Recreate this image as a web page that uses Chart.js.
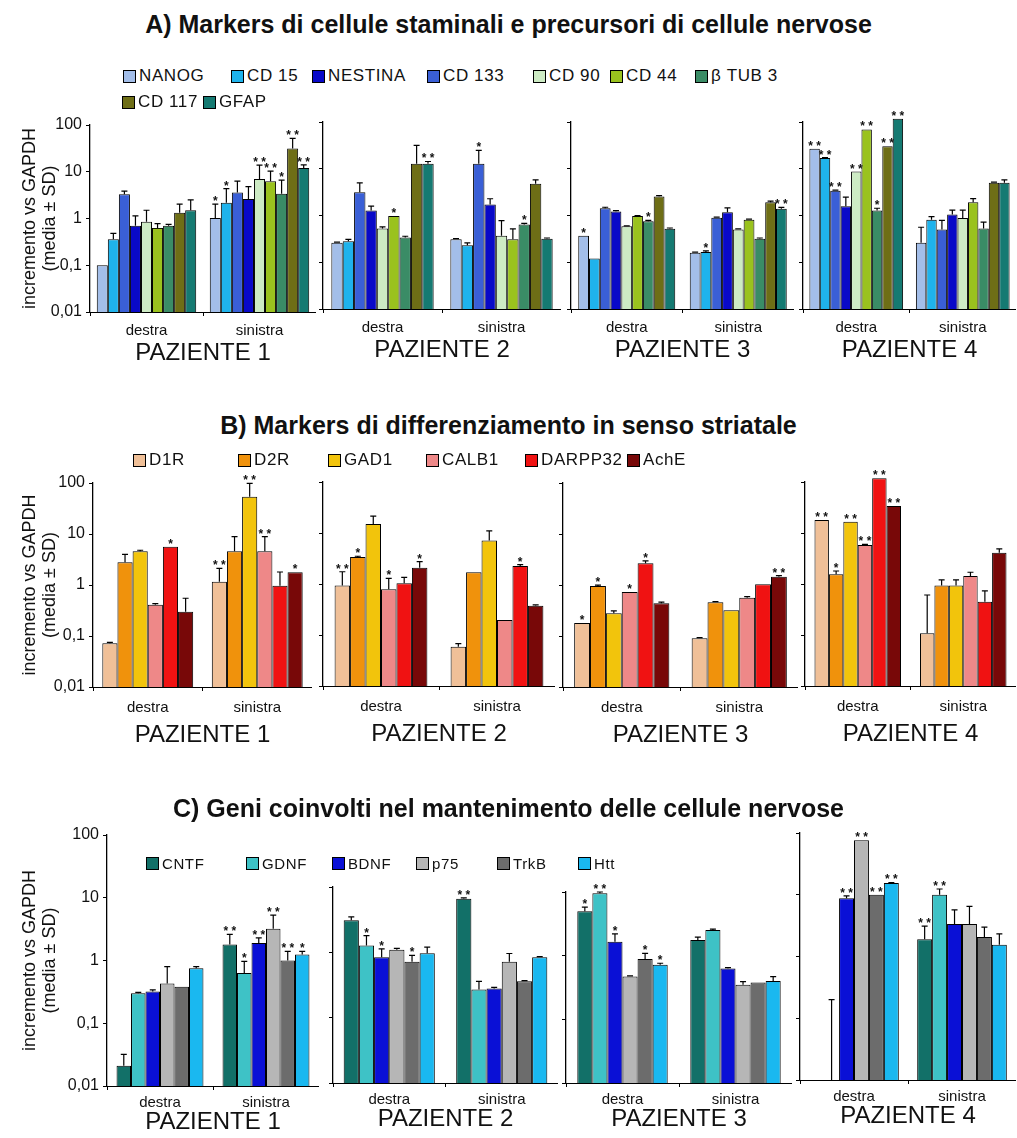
<!DOCTYPE html>
<html lang="it">
<head>
<meta charset="UTF-8">
<title>Markers - PAZIENTE 1-4</title>
<style>
  body { margin: 0; background: #fff; }
  #page { position: relative; width: 1017px; height: 1138px; overflow: hidden;
          font-family: "Liberation Sans", Arial, sans-serif; color: #111; }
  canvas { position: absolute; }
  .title { position: absolute; left: 0; width: 1017px; text-align: center;
           font-weight: bold; font-size: 25px; line-height: 30px; }
  .key { position: absolute; display: flex; align-items: center; white-space: nowrap;
         height: 20px; letter-spacing: 0.6px; }
  .key i { display: inline-block; width: 11px; height: 11px; border: 1px solid #000; margin-right: 3px; }
</style>
<script src="https://cdn.jsdelivr.net/npm/chart.js"></script>
</head>
<body>
<div id="page"></div>
<script>
// ---- data (log scale, mean and SD, significance) ----
const sides = ['destra', 'sinistra'];
const decades = [0.01, 0.1, 1, 10, 100];

// A) stem cell / neural precursor markers, in bar order
const markersA = ['NANOG', 'CD 15', 'CD 133', 'NESTINA', 'CD 90', 'CD 44', 'β TUB 3', 'CD 117', 'GFAP'];
const coloursA = ['#a3bee9', '#1fb3ec', '#3a5fd6', '#0909c8', '#cdebc4', '#9ac21e', '#3a8c66', '#6e6e16', '#157a72'];
const legendOrderA = ['NANOG', 'CD 15', 'NESTINA', 'CD 133', 'CD 90', 'CD 44', 'β TUB 3', 'CD 117', 'GFAP'];

// each row: [destra, sinistra]
const A1_mean = [[0.10, 1.03], [0.36, 2.16], [3.3, 3.6], [0.70, 2.6], [0.85, 7.0], [0.63, 6.3], [0.70, 3.4], [1.32, 31.6], [1.5, 12]];
const A1_sd   = [[0, 1.0], [0.12, 2.2], [0.55, 2.7], [0.44, 2.2], [0.65, 6.9], [0.15, 4.0], [0.05, 3.2], [0.7, 20], [1.0, 2]];
const A1_sig  = [['', '*'], ['', '*'], ['', ''], ['', ''], ['', '**'], ['', '**'], ['', '*'], ['', '**'], ['', '**']];

const A2_mean = [[0.26, 0.31], [0.28, 0.23], [3.16, 12.8], [1.28, 1.72], [0.53, 0.37], [0.97, 0.31], [0.34, 0.64], [12.8, 4.8], [12.8, 0.32]];
const A2_sd   = [[0.01, 0.01], [0.03, 0.03], [1.85, 11.8], [0.3, 0.56], [0.04, 0.41], [0, 0.21], [0.02, 0.04], [18.8, 1.0], [1.5, 0.01]];
const A2_sig  = [['', ''], ['', ''], ['', '*'], ['', ''], ['', ''], ['*', ''], ['', '*'], ['', ''], ['**', '']];

const A3_mean = [[0.37, 0.16], [0.12, 0.165], [1.43, 0.89], [1.22, 1.18], [0.59, 0.50], [0.97, 0.81], [0.75, 0.32], [2.55, 1.93], [0.52, 1.39]];
const A3_sd   = [[0, 0.005], [0, 0.01], [0.07, 0.03], [0.05, 0.27], [0.01, 0.02], [0.02, 0.03], [0.04, 0.01], [0.1, 0.1], [0.02, 0.1]];
const A3_sig  = [['*', ''], ['', '*'], ['', ''], ['', ''], ['', ''], ['', ''], ['*', ''], ['', ''], ['', '**']];

const A4_mean = [[26.8, 0.26], [16.9, 0.81], [3.4, 0.50], [1.58, 1.05], [8.7, 0.88], [69.5, 1.93], [1.28, 0.53], [30.4, 5.0], [118, 5.0]];
const A4_sd   = [[0, 0.3], [0.5, 0.14], [0.1, 0.29], [0.9, 0.25], [0, 0.42], [0, 0.37], [0.15, 0.19], [0, 0.2], [0, 0.8]];
const A4_sig  = [['**', ''], ['**', ''], ['**', ''], ['', ''], ['**', ''], ['**', ''], ['*', ''], ['**', ''], ['**', '']];

// B) striatal differentiation markers
const markersB = ['D1R', 'D2R', 'GAD1', 'CALB1', 'DARPP32', 'AchE'];
const coloursB = ['#f0c098', '#f0920c', '#f2c40c', '#ee8888', '#f01212', '#780808'];

const B1_mean = [[0.072, 1.16], [2.8, 4.6], [4.6, 54], [0.41, 4.6], [5.6, 0.97], [0.30, 1.77]];
const B1_sd   = [[0.003, 0.95], [1.2, 4.3], [0.2, 44], [0.02, 4.3], [0, 0.83], [0.25, 0]];
const B1_sig  = [['', '**'], ['', ''], ['', '**'], ['', '**'], ['*', ''], ['', '*']];

const B2_mean = [[0.93, 0.059], [3.4, 1.7], [15, 7.1], [0.79, 0.197], [1.03, 2.25], [2.09, 0.376]];
const B2_sd   = [[0.81, 0.009], [0.1, 0], [6.5, 3.9], [0.5, 0], [0.32, 0.15], [0.65, 0.014]];
const B2_sig  = [['**', ''], ['*', ''], ['', ''], ['*', ''], ['', '*'], ['*', '']];

const B3_mean = [[0.18, 0.09], [0.96, 0.46], [0.28, 0.32], [0.73, 0.56], [2.66, 1.03], [0.44, 1.45]];
const B3_sd   = [[0, 0.003], [0.03, 0.01], [0.03, 0], [0, 0.03], [0.32, 0], [0.02, 0.08]];
const B3_sig  = [['*', ''], ['*', ''], ['', ''], ['*', ''], ['*', ''], ['', '**']];

const B4_mean = [[18, 0.108], [1.55, 0.93], [16.6, 0.93], [5.8, 1.43], [118, 0.45], [34, 4.1]];
const B4_sd   = [[0, 0.5], [0.25, 0.27], [0, 0.27], [0.2, 0.27], [0, 0.28], [0, 0.8]];
const B4_sig  = [['**', ''], ['*', ''], ['**', ''], ['**', ''], ['**', ''], ['**', '']];

// C) neural maintenance genes
const markersC = ['CNTF', 'GDNF', 'BDNF', 'p75', 'TrkB', 'Htt'];
const coloursC = ['#127068', '#3ec2c6', '#0a10d6', '#b6b6b6', '#6c6c6c', '#1ab8f0'];

const C1_mean = [[0.021, 1.8], [0.30, 0.63], [0.32, 1.9], [0.43, 3.2], [0.38, 1.0], [0.75, 1.25]];
const C1_sd   = [[0.011, 0.8], [0.01, 0.34], [0.02, 0.4], [0.37, 2.1], [0, 0.4], [0.05, 0.15]];
const C1_sig  = [['', '**'], ['', '*'], ['', '**'], ['', '**'], ['', '**'], ['', '*']];

const C2_mean = [[3.1, 6.6], [1.27, 0.27], [0.84, 0.28], [1.1, 0.72], [0.72, 0.36], [0.97, 0.84]];
const C2_sd   = [[0.4, 0.2], [0.53, 0.09], [0.29, 0.01], [0.05, 0.24], [0.18, 0.01], [0.23, 0.02]];
const C2_sig  = [['', '**'], ['*', ''], ['*', ''], ['', ''], ['*', ''], ['', '']];

const C3_mean = [[5.0, 1.77], [9.6, 2.54], [1.66, 0.63], [0.47, 0.35], [0.89, 0.38], [0.72, 0.40]];
const C3_sd   = [[0.8, 0.18], [0.4, 0.08], [0.54, 0.02], [0.01, 0.04], [0.2, 0], [0.04, 0.07]];
const C3_sig  = [['*', ''], ['**', ''], ['*', ''], ['', ''], ['*', ''], ['*', '']];

const C4_mean = [[null, 1.9], [0.01, 10], [8.8, 3.35], [76, 3.35], [10, 2.06], [15.5, 1.55]];
const C4_sd   = [[0, 1.2], [0.19, 2.4], [0.8, 2.35], [0, 3.15], [0, 0.94], [0.3, 0.78]];
const C4_sig  = [['', '**'], ['', '**'], ['**', ''], ['**', ''], ['**', ''], ['**', '']];

// ---- layout ----
const titles = [
  ['A) Markers di cellule staminali e precursori di cellule nervose', 9],
  ['B) Markers di differenziamento in senso striatale', 410],
  ['C) Geni coinvolti nel mantenimento delle cellule nervose', 793]
];
// per row: x-axis box height, tick label padding, legend font size
const rowStyle = {
  A: { xh: 56, tickPad: 6, keyFont: 17 },
  B: { xh: 63, tickPad: 8, keyFont: 17 },
  C: { xh: 51, tickPad: 4, keyFont: 15 }
};
const keyPos = {
  A: [[123, 76], [231, 76], [312, 76], [427, 76], [533, 76], [610, 76], [695, 76], [122, 102], [203, 102]],
  B: [[133, 460], [238, 460], [328, 460], [426, 460], [525, 460], [627, 460]],
  C: [[146, 863], [246, 863], [332, 863], [416, 863], [497, 863], [578, 863]]
};
const panels = [
  { row: 'A', n: 1, axisX: 90,  right: 316,  top: 125, bottom: 312,  max: 100, cp: 0.88, mean: A1_mean, sd: A1_sd, sig: A1_sig },
  { row: 'A', n: 2, axisX: 323, right: 561,  top: 122, bottom: 309,  max: 100, cp: 0.86, mean: A2_mean, sd: A2_sd, sig: A2_sig },
  { row: 'A', n: 3, axisX: 571, right: 794,  top: 122, bottom: 309,  max: 100, cp: 0.87, mean: A3_mean, sd: A3_sd, sig: A3_sig },
  { row: 'A', n: 4, axisX: 803, right: 1016, top: 122, bottom: 309,  max: 100, cp: 0.88, mean: A4_mean, sd: A4_sd, sig: A4_sig },
  { row: 'B', n: 1, axisX: 93,  right: 312,  top: 483, bottom: 687,  max: 100, cp: 0.83, mean: B1_mean, sd: B1_sd, sig: B1_sig },
  { row: 'B', n: 2, axisX: 323, right: 555,  top: 482, bottom: 686,  max: 100, cp: 0.80, mean: B2_mean, sd: B2_sd, sig: B2_sig },
  { row: 'B', n: 3, axisX: 563, right: 798,  top: 483, bottom: 687,  max: 100, cp: 0.81, mean: B3_mean, sd: B3_sd, sig: B3_sig },
  { row: 'B', n: 4, axisX: 805, right: 1016, top: 482, bottom: 686,  max: 100, cp: 0.82, mean: B4_mean, sd: B4_sd, sig: B4_sig },
  { row: 'C', n: 1, axisX: 107, right: 319,  top: 835, bottom: 1086, max: 100, cp: 0.82, mean: C1_mean, sd: C1_sd, sig: C1_sig },
  { row: 'C', n: 2, axisX: 333, right: 558,  top: 887, bottom: 1083, max: 10,  cp: 0.81, mean: C2_mean, sd: C2_sd, sig: C2_sig },
  { row: 'C', n: 3, axisX: 566, right: 792,  top: 892, bottom: 1083, max: 10,  cp: 0.80, mean: C3_mean, sd: C3_sd, sig: C3_sig },
  { row: 'C', n: 4, axisX: 800, right: 1016, top: 833, bottom: 1080, max: 100, cp: 0.83, mean: C4_mean, sd: C4_sd, sig: C4_sig }
];
const rowSeries = {
  A: { names: markersA, colours: coloursA },
  B: { names: markersB, colours: coloursB },
  C: { names: markersC, colours: coloursC }
};

Chart.defaults.font.family = '"Liberation Sans", Arial, sans-serif';
Chart.defaults.color = '#111';

// SD whiskers (upper only) and significance stars
const whiskers = {
  id: 'whiskers',
  afterDatasetsDraw(chart) {
    const { ctx, chartArea } = chart;
    const y = chart.scales.y;
    ctx.save();
    ctx.strokeStyle = '#000';
    ctx.fillStyle = '#111';
    ctx.lineWidth = 1.2;
    ctx.font = 'bold 12px "Liberation Sans", Arial, sans-serif';
    ctx.textAlign = 'center';
    ctx.textBaseline = 'alphabetic';
    chart.data.datasets.forEach((ds, i) => {
      chart.getDatasetMeta(i).data.forEach((bar, j) => {
        const m = ds.data[j];
        if (m == null) return;
        let top = y.getPixelForValue(m);
        if (ds.sd[j] > 0) {
          const yh = y.getPixelForValue(m + ds.sd[j]);
          ctx.beginPath();
          ctx.moveTo(bar.x, Math.min(top, chartArea.bottom));
          ctx.lineTo(bar.x, yh);
          ctx.moveTo(bar.x - 3, yh);
          ctx.lineTo(bar.x + 3, yh);
          ctx.stroke();
          top = yh;
        }
        if (ds.sig[j]) ctx.fillText(ds.sig[j].split('').join(' '), bar.x, top + 1);
      });
    });
    ctx.restore();
  }
};

const page = document.getElementById('page');

function drawPanel(p) {
  const first = p.n === 1;
  const rs = rowStyle[p.row];
  const series = rowSeries[p.row];
  const yw = first ? p.axisX : 6;
  const left = p.axisX - yw;
  const padTop = 28;
  const cv = document.createElement('canvas');
  cv.width = p.right - left;
  cv.height = padTop + (p.bottom - p.top) + rs.xh;
  cv.style.left = left + 'px';
  cv.style.top = (p.top - padTop) + 'px';
  page.appendChild(cv);

  new Chart(cv, {
    type: 'bar',
    data: {
      labels: sides,
      datasets: series.names.map((name, i) => ({
        label: name,
        data: p.mean[i],
        sd: p.sd[i],
        sig: p.sig[i],
        backgroundColor: series.colours[i],
        borderColor: '#000',
        borderWidth: 1,
        categoryPercentage: p.cp,
        barPercentage: 1,
        clip: false
      }))
    },
    options: {
      responsive: false,
      animation: false,
      devicePixelRatio: 1,
      layout: { padding: { top: padTop, left: 0, right: 0, bottom: 0 } },
      plugins: { legend: { display: false }, tooltip: { enabled: false } },
      scales: {
        x: {
          afterFit: s => { s.height = rs.xh; },
          border: { display: true, color: '#000', width: 1 },
          grid: { display: true, drawOnChartArea: false, drawTicks: true, tickLength: 4, color: '#000', offset: true },
          ticks: { font: { size: 15 }, padding: rs.tickPad, maxRotation: 0 },
          title: { display: true, text: 'PAZIENTE ' + p.n, font: { size: 24 }, padding: { top: 0, bottom: 0 } }
        },
        y: {
          type: 'logarithmic',
          min: 0.01,
          max: p.max,
          afterBuildTicks: s => { s.ticks = decades.filter(v => v <= p.max).map(v => ({ value: v })); },
          afterFit: s => { s.width = yw; },
          border: { display: true, color: '#000', width: 1.3 },
          grid: { display: true, drawOnChartArea: false, drawTicks: true, tickLength: 4, color: '#000' },
          ticks: { display: first, font: { size: 16 }, padding: 4, callback: v => String(v).replace('.', ',') },
          title: {
            display: first,
            text: ['incremento vs GAPDH', '(media ± SD)'],
            font: { size: 18, lineHeight: 1.1 },
            padding: { top: 20, bottom: 0 }
          }
        }
      }
    },
    plugins: [whiskers]
  });
}

panels.forEach(drawPanel);

// titles and legends on top of the canvases
titles.forEach(([text, top]) => {
  const d = document.createElement('div');
  d.className = 'title';
  d.style.top = top + 'px';
  d.textContent = text;
  page.appendChild(d);
});

function addKeys(row, order) {
  const { names, colours } = rowSeries[row];
  order.forEach((name, k) => {
    const [x, yc] = keyPos[row][k];
    const d = document.createElement('div');
    d.className = 'key';
    d.style.left = x + 'px';
    d.style.top = (yc - 10) + 'px';
    d.style.fontSize = rowStyle[row].keyFont + 'px';
    const box = document.createElement('i');
    box.style.background = colours[names.indexOf(name)];
    d.appendChild(box);
    d.appendChild(document.createTextNode(name));
    page.appendChild(d);
  });
}
addKeys('A', legendOrderA);
addKeys('B', markersB);
addKeys('C', markersC);
</script>
</body>
</html>
